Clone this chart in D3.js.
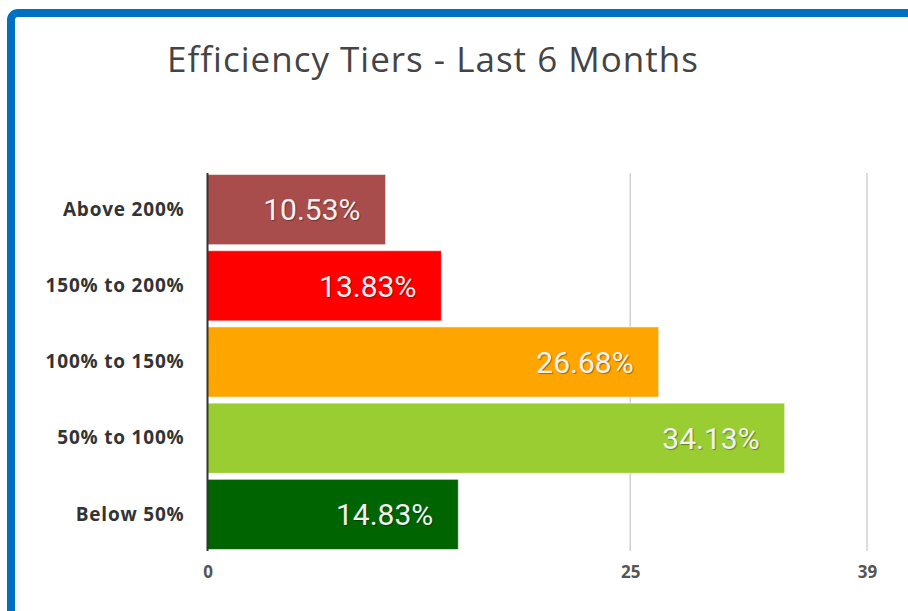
<!DOCTYPE html>
<html>
<head>
<meta charset="utf-8">
<script src="https://cdnjs.cloudflare.com/ajax/libs/d3/7.8.5/d3.min.js"></script>
<style>
body { margin:0; background:#fff; }
</style>
</head>
<body>
<div id="chart"></div>
<script>
var categorias = ["Above 200%", "150% to 200%", "100% to 150%", "50% to 100%", "Below 50%"];
var valores = [10.53, 13.83, 26.68, 34.13, 14.83];
var colores = ["#a94c4c", "#ff0000", "#ffa500", "#9acd32", "#006400"];
var ticks = [0, 25, 39];
var titulo = "Efficiency Tiers - Last 6 Months";

(function(){
	var svg = d3.select("#chart").append("svg").attr("width", 908).attr("height", 611);

	// marco azul
	svg.append("rect").attr("x", 11).attr("y", 13).attr("width", 940).attr("height", 640)
		.attr("rx", 7).attr("fill", "#fff").attr("stroke", "#0070c0").attr("stroke-width", 8);

	svg.append("text").attr("x", 433).attr("y", 72).attr("text-anchor", "middle")
		.attr("font-family", "Open Sans").attr("font-size", 35).attr("fill", "#444")
		.attr("letter-spacing", 1)
		.text(titulo);

	var x = d3.scaleLinear().domain([0, 39]).range([207.5, 867]);
	var y = d3.scaleBand().domain(categorias).range([173, 551]).paddingInner(0.08).paddingOuter(0.02);

	// lineas de cuadricula
	svg.append("g").selectAll("line").data(ticks.filter(function(t){ return t > 0; })).enter()
		.append("line")
		.attr("x1", function(d){ return x(d); }).attr("x2", function(d){ return x(d); })
		.attr("y1", 173).attr("y2", 551)
		.attr("stroke", "#d0d0d0").attr("stroke-width", 1.5);

	var eje = svg.append("g").attr("transform", "translate(0,551)")
		.call(d3.axisBottom(x).tickValues(ticks).tickSize(0).tickPadding(15));
	eje.select(".domain").remove();
	eje.selectAll("text").attr("font-family", "Open Sans").attr("font-weight", "bold")
		.attr("font-size", 17).attr("fill", "#555");

	var barras = svg.append("g").selectAll("g").data(categorias).enter().append("g");
	barras.append("rect")
		.attr("x", x(0))
		.attr("y", function(d){ return y(d); })
		.attr("width", function(d, i){ return x(valores[i]) - x(0); })
		.attr("height", y.bandwidth())
		.attr("fill", function(d, i){ return colores[i]; })
		.attr("stroke", "#fff").attr("stroke-opacity", 0.5).attr("stroke-width", 1);
	barras.append("text")
		.attr("x", function(d, i){ return x(valores[i]) - 25; })
		.attr("y", function(d){ return y(d) + y.bandwidth() / 2; })
		.attr("dy", "0.36em")
		.attr("text-anchor", "end")
		.attr("font-family", "Roboto").attr("font-weight", 400).attr("font-size", 30)
		.attr("fill", "#f2f2f2")
		.style("text-shadow", "1px 1px 1px rgba(0,0,0,0.35)")
		.text(function(d, i){ return valores[i].toFixed(2) + "%"; });

	var ejeY = svg.append("g").attr("transform", "translate(" + x(0) + ",0)")
		.call(d3.axisLeft(y).tickSize(0).tickPadding(23));
	ejeY.select(".domain").attr("stroke", "#333").attr("stroke-width", 2)
		.attr("d", "M0,173V551");
	ejeY.selectAll("text").attr("font-family", "Open Sans").attr("font-weight", "bold")
		.attr("font-size", 19).attr("letter-spacing", 0.8).attr("fill", "#333");
})();
</script>
</body>
</html>
